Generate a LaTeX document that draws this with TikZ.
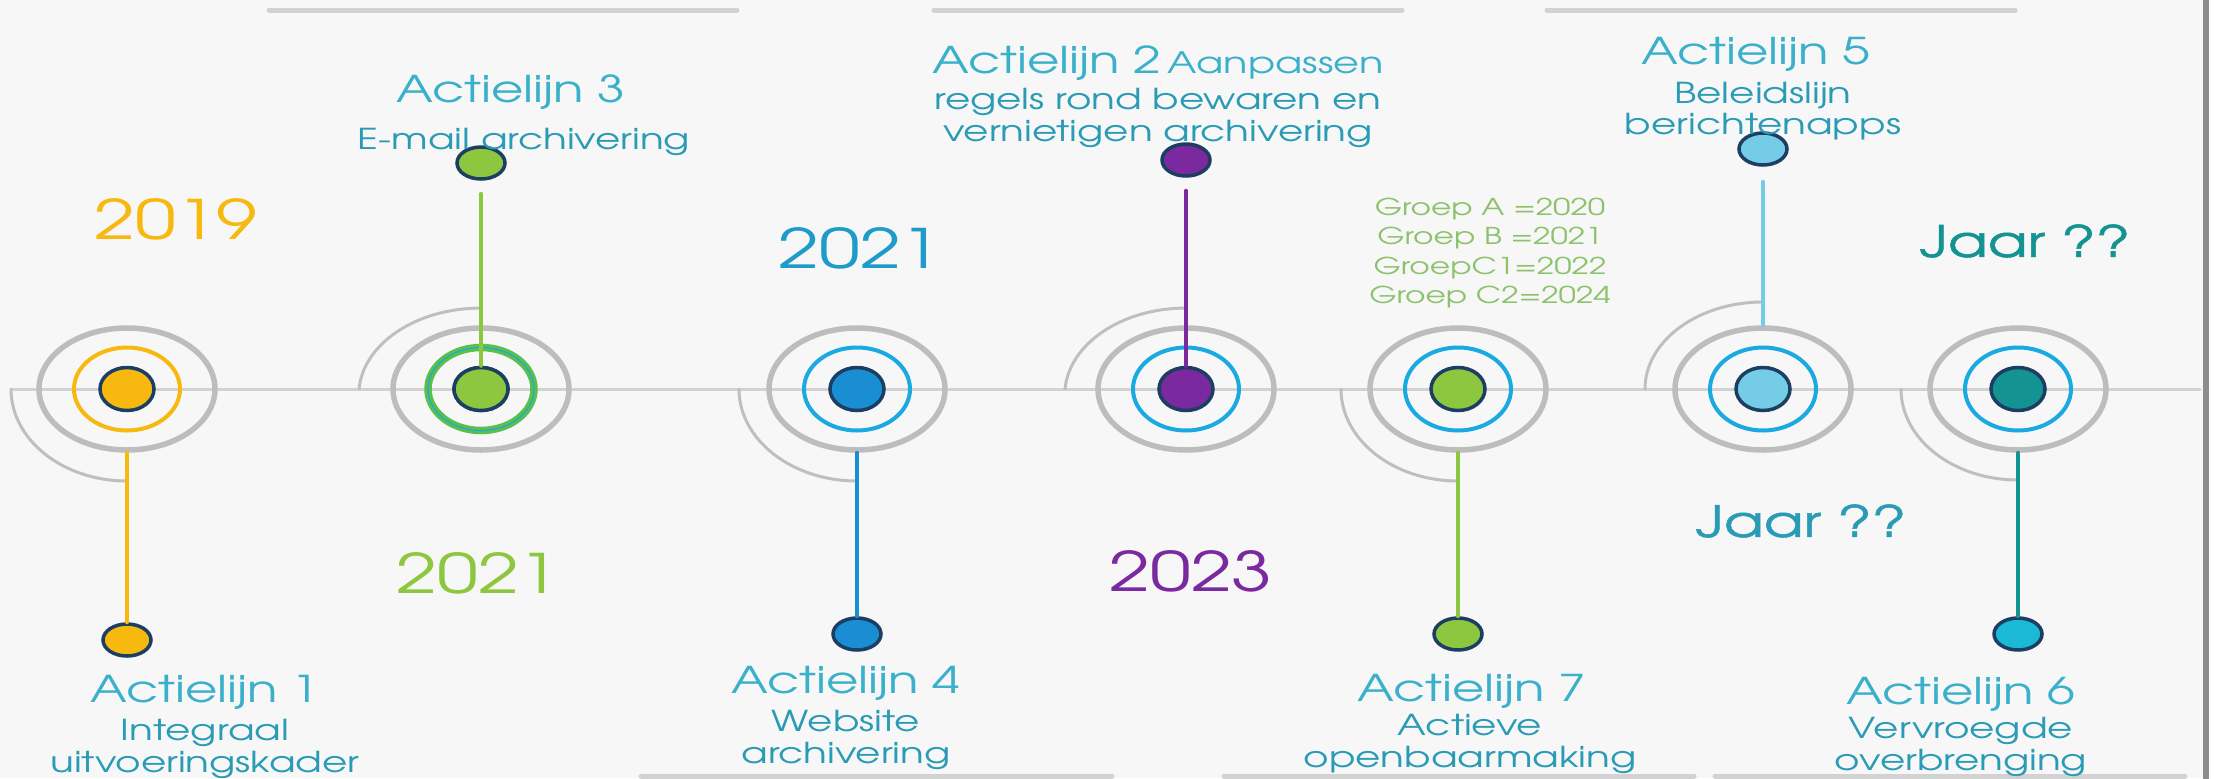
\documentclass[tikz,border=0pt]{standalone}
\usepackage{fontspec}
\setmainfont{texgyreadventor-regular.otf}[FakeStretch=1.35]
\newfontfamily\jaarfont{texgyreadventor-regular.otf}[FakeStretch=1.35, FakeBold=1.2]
\usepackage{tikz}
\usetikzlibrary{shapes.geometric}

\definecolor{bgwhite}{HTML}{F7F7F7}
\definecolor{ringgray}{HTML}{BDBDBD}
\definecolor{linegray}{HTML}{D2D2D2}
\definecolor{arcgray}{HTML}{BFBFBF}
\definecolor{framegray}{HTML}{8C8C8C}
\definecolor{navy}{HTML}{1C3E62}
\definecolor{actie}{HTML}{3AB0CB}
\definecolor{actiesub}{HTML}{2A9BB5}
\definecolor{geel}{HTML}{F7B90F}
\definecolor{groen}{HTML}{8DC63F}
\definecolor{groenring}{HTML}{5CBF4A}
\definecolor{cyaan}{HTML}{1BA9E1}
\definecolor{blauw}{HTML}{1A8ED3}
\definecolor{paars}{HTML}{7A2A9E}
\definecolor{lichtblauw}{HTML}{74CCE6}
\definecolor{petrol}{HTML}{139391}
\definecolor{turkoois}{HTML}{1AB9D6}
\definecolor{groepgroen}{HTML}{8CC26C}
\definecolor{jaarblauw}{HTML}{1E9BC8}

\begin{document}
\begin{tikzpicture}[x=0.1mm, y=-0.1mm, line cap=round]
    \tikzstyle{grayring}=[ellipse, draw=ringgray, line width=0.55mm, minimum width=17.6mm, minimum height=12.2mm, inner sep=0pt]
    \tikzstyle{band}=[ellipse, line width=0.4mm, minimum width=10.6mm, minimum height=8.3mm, inner sep=0pt]
    \tikzstyle{hub}=[ellipse, draw=navy, line width=0.35mm, minimum width=5.4mm, minimum height=4.3mm, inner sep=0pt]
    \tikzstyle{enddot}=[ellipse, draw=navy, line width=0.35mm, minimum width=4.8mm, minimum height=3.2mm, inner sep=0pt]
    \tikzstyle{stem}=[line width=0.4mm]
    \tikzstyle{swirl}=[draw=arcgray, line width=0.3mm]
    \tikzstyle{title}=[text=actie, font=\fontsize{10.5}{12}\selectfont, inner sep=0pt]
    \tikzstyle{sub}=[text=actiesub, font=\fontsize{8.2}{9}\selectfont, align=center, inner sep=0pt]
    \tikzstyle{year}=[font=\fontsize{15.5}{18}\selectfont, inner sep=0pt]
    \tikzstyle{jaar}=[text=petrol, font=\jaarfont\fontsize{12.3}{14}\selectfont, inner sep=0pt]

    \fill[white] (0,0) rectangle (2220,778);
    \fill[bgwhite] (0,0) rectangle (2203,778);
    \useasboundingbox (0,0) rectangle (2220,778);
    \draw[framegray, line width=0.6mm] (2206,0) -- (2206,778);

    \draw[linegray, line width=0.5mm] (269,10) -- (737,10);
    \draw[linegray, line width=0.5mm] (934,10) -- (1402,10);
    \draw[linegray, line width=0.5mm] (1547,10) -- (2015,10);
    \draw[linegray, line width=0.5mm] (641,776) -- (1112,776);
    \draw[linegray, line width=0.5mm] (1224,776) -- (1694,776);
    \draw[linegray, line width=0.5mm] (1715,776) -- (2185,776);
    \draw[linegray, line width=0.3mm] (12,389) -- (2200,389);

    \foreach \n/\x/\rc/\dc in {1/127/geel/geel, 2/481/groenring/groen, 3/857/cyaan/blauw,
        4/1186/cyaan/paars, 5/1458/cyaan/groen, 6/1763/cyaan/lichtblauw, 7/2018/cyaan/petrol} {
        \node[grayring] (g\n) at (\x,389) {};
        \node[band, draw=\rc] (b\n) at (\x,389) {};
        \node[hub, fill=\dc] (h\n) at (\x,389) {};
    }
    \node[band, draw=groenring, line width=0.75mm] (b2) at (481,389) {};
    \node[band, draw=cyaan, line width=0.12mm] (b2i) at (481,389) {};
    \node[hub, fill=groen] (h2) at (481,389) {};

    \draw[swirl] ([xshift=-11.6mm]g1.center) arc[start angle=180, end angle=270, x radius=11.6mm, y radius=9.2mm];
    \draw[swirl] ([xshift=-12.2mm]g2.center) arc[start angle=176, end angle=90, x radius=12.2mm, y radius=8.7mm];
    \draw[swirl] ([xshift=-11.8mm]g3.center) arc[start angle=180, end angle=270, x radius=11.8mm, y radius=9.2mm];
    \draw[swirl] ([xshift=-12.1mm]g4.center) arc[start angle=176, end angle=90, x radius=12.1mm, y radius=8.7mm];
    \draw[swirl] ([xshift=-11.7mm]g5.center) arc[start angle=180, end angle=270, x radius=11.7mm, y radius=9.2mm];
    \draw[swirl] ([xshift=-11.8mm]g6.center) arc[start angle=180, end angle=90, x radius=11.8mm, y radius=8.7mm];
    \draw[swirl] ([xshift=-11.7mm]g7.center) arc[start angle=180, end angle=270, x radius=11.7mm, y radius=9.1mm];

    \node[enddot, fill=geel] (e1) at (127,640) {};
    \node[enddot, fill=groen] (e2) at (481,163) {};
    \node[enddot, fill=blauw] (e3) at (857,634) {};
    \node[enddot, fill=paars] (e4) at (1186,160) {};
    \node[enddot, fill=groen] (e5) at (1458,634) {};
    \node[enddot, fill=lichtblauw] (e6) at (1763,149) {};
    \node[enddot, fill=turkoois] (e7) at (2018,634) {};

    \draw[stem, geel] (g1.south) -- (e1.north);
    \draw[stem, groen, shorten <=1.3mm] (e2.south) -- (h2.north);
    \draw[stem, blauw] (g3.south) -- (e3.north);
    \draw[stem, paars, shorten <=1.3mm] (e4.south) -- (h4.north);
    \draw[stem, groen] (g5.south) -- (e5.north);
    \draw[stem, lichtblauw, shorten <=1.5mm] (e6.south) -- (g6.north);
    \draw[stem, petrol] (g7.south) -- (e7.north);

    \node[title] (t1) at (205,692) {Actielijn 1};
    \node[sub] (s1) at (205,749) {Integraal\\uitvoeringskader};
    \node[title] (t3) at (511,92) {Actielijn 3};
    \node[sub] (s3) at (524,142) {E-mail archivering};
    \node[title] (t4) at (846,683) {Actielijn 4};
    \node[sub] (s4) at (846,740) {Website\\archivering};
    \node[title] (t2) at (1158,63) {Actielijn 2\,{\fontsize{8.4}{10}\selectfont Aanpassen}};
    \node[sub] (s2) at (1158,118) {regels rond bewaren en\\vernietigen archivering};
    \node[title] (t7) at (1472,691) {Actielijn 7};
    \node[sub] (s7) at (1470,744) {Actieve\\openbaarmaking};
    \node[title] (t6) at (1961,694) {Actielijn 6};
    \node[sub] (s6) at (1961,747) {Vervroegde\\overbrenging};
    \node[title] (t5) at (1756,54) {Actielijn 5};
    \node[sub] (s5) at (1763,111) {Beleidslijn\\berichtenapps};

    \node[text=groepgroen, font=\fontsize{6.6}{8.3}\selectfont, align=center, inner sep=0pt] (groep) at (1490,253)
        {Groep A =2020\\Groep B =2021\\GroepC1=2022\\Groep C2=2024};

    \node[year, text=geel] (y2019) at (176,219) {2019};
    \node[year, text=groen] (y2021a) at (478,573) {2021};
    \node[year, text=jaarblauw] (y2021b) at (860,248) {2021};
    \node[year, text=paars] (y2023) at (1191,571) {2023};
    \node[jaar] (jaar7) at (2025,241) {Jaar ??};
    \node[jaar, text=actiesub] (jaar6) at (1801,521) {Jaar ??};
\end{tikzpicture}
\end{document}
